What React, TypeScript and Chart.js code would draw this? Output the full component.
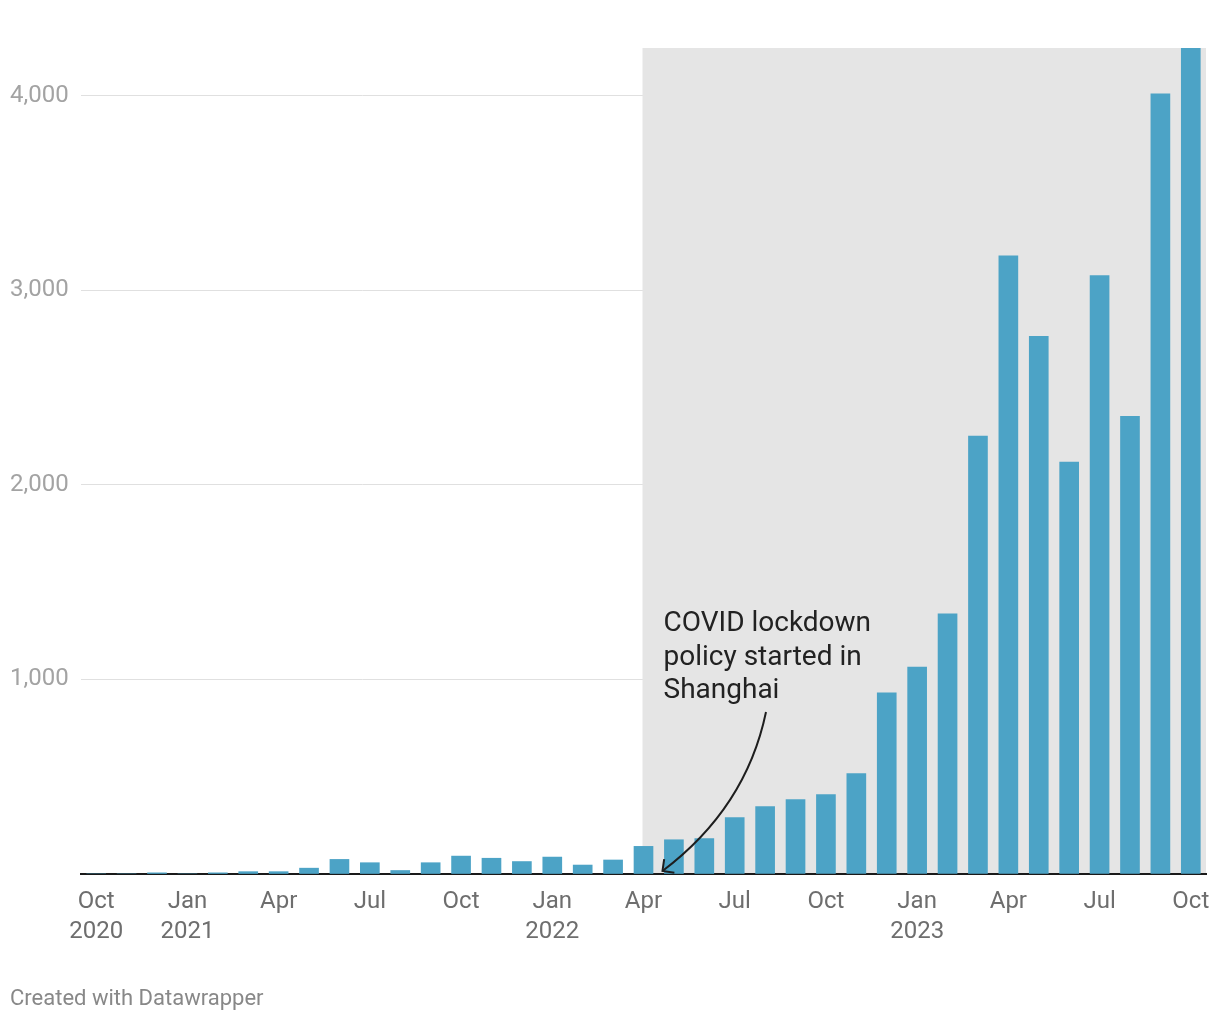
import React, { useEffect, useRef } from 'react';
import { Chart, registerables } from 'chart.js';

Chart.register(...registerables);

const categories = [
  'Oct 2020', 'Nov 2020', 'Dec 2020',
  'Jan 2021', 'Feb 2021', 'Mar 2021', 'Apr 2021', 'May 2021', 'Jun 2021',
  'Jul 2021', 'Aug 2021', 'Sep 2021', 'Oct 2021', 'Nov 2021', 'Dec 2021',
  'Jan 2022', 'Feb 2022', 'Mar 2022', 'Apr 2022', 'May 2022', 'Jun 2022',
  'Jul 2022', 'Aug 2022', 'Sep 2022', 'Oct 2022', 'Nov 2022', 'Dec 2022',
  'Jan 2023', 'Feb 2023', 'Mar 2023', 'Apr 2023', 'May 2023', 'Jun 2023',
  'Jul 2023', 'Aug 2023', 'Sep 2023', 'Oct 2023',
];

const values = [
  0, 0, 6,
  0, 6, 12, 12, 30, 75,
  58, 18, 58, 92, 81, 64,
  87, 46, 72, 142, 176, 182,
  290, 346, 382, 408, 516, 931,
  1064, 1337, 2250, 3177, 2763, 2117,
  3075, 2352, 4010, 4245,
];

const xTickLabels: Record<string, string[]> = {
  'Oct 2020': ['Oct', '2020'],
  'Jan 2021': ['Jan', '2021'],
  'Apr 2021': ['Apr'],
  'Jul 2021': ['Jul'],
  'Oct 2021': ['Oct'],
  'Jan 2022': ['Jan', '2022'],
  'Apr 2022': ['Apr'],
  'Jul 2022': ['Jul'],
  'Oct 2022': ['Oct'],
  'Jan 2023': ['Jan', '2023'],
  'Apr 2023': ['Apr'],
  'Jul 2023': ['Jul'],
  'Oct 2023': ['Oct'],
};

const yTicks = [0, 1000, 2000, 3000, 4000];
const yMax = 4245;

const highlightStart = 'Apr 2022';
const annotationLines = ['COVID lockdown', 'policy started in', 'Shanghai'];
const footerText = 'Created with Datawrapper';

const overlayPlugin = {
  id: 'overlay',
  beforeDatasetsDraw(chart: any) {
    const { ctx, chartArea, scales } = chart;
    const x0 = scales.x.getPixelForValue(categories.indexOf(highlightStart)) - 1;
    ctx.save();
    ctx.fillStyle = '#e5e5e5';
    ctx.fillRect(x0, chartArea.top, chartArea.right - x0, chartArea.bottom - 1 - chartArea.top);
    ctx.restore();
  },
  afterDatasetsDraw(chart: any) {
    const { ctx, scales } = chart;
    const base = scales.x.getPixelForValue(categories.indexOf(highlightStart));
    const baseY = scales.y.getPixelForValue(0);
    ctx.save();
    // annotation text
    ctx.fillStyle = '#222222';
    ctx.font = '28px Roboto';
    ctx.textAlign = 'left';
    ctx.textBaseline = 'alphabetic';
    const tx = base + 20;
    annotationLines.forEach((line, i) => {
      ctx.fillText(line, tx, 631 + i * 33.5);
    });
    // arrow
    const sx = 766, sy = 712;
    const cx = 746, cy = 808;
    const ex = base + 19, ey = baseY - 3;
    ctx.strokeStyle = '#1e1e1e';
    ctx.lineWidth = 2;
    ctx.beginPath();
    ctx.moveTo(sx, sy);
    ctx.quadraticCurveTo(cx, cy, ex, ey);
    ctx.stroke();
    const ang = Math.atan2(cy - ey, cx - ex);
    const len = 12;
    ctx.beginPath();
    ctx.moveTo(ex + Math.cos(ang - Math.PI / 4) * len, ey + Math.sin(ang - Math.PI / 4) * len);
    ctx.lineTo(ex, ey);
    ctx.lineTo(ex + Math.cos(ang + Math.PI / 4) * len, ey + Math.sin(ang + Math.PI / 4) * len);
    ctx.stroke();
    ctx.restore();
  },
  afterDraw(chart: any) {
    const { ctx } = chart;
    ctx.save();
    ctx.fillStyle = '#888888';
    ctx.font = '22px Roboto';
    ctx.textAlign = 'left';
    ctx.textBaseline = 'alphabetic';
    ctx.fillText(footerText, 10, 1005);
    ctx.restore();
  },
};

export default function App() {
  const ref = useRef<HTMLCanvasElement>(null);

  useEffect(() => {
    if (!ref.current) return;
    const chart = new Chart(ref.current, {
      type: 'bar',
      data: {
        labels: categories,
        datasets: [
          {
            data: values,
            backgroundColor: '#4ca3c6',
            borderWidth: 0,
            barThickness: 19,
          },
        ],
      },
      options: {
        responsive: false,
        animation: false,
        layout: { padding: { left: 10, right: 14, top: 48, bottom: 0 } },
        plugins: {
          legend: { display: false },
          tooltip: { enabled: false },
        },
        scales: {
          x: {
            offset: true,
            grid: { display: false, drawTicks: false },
            border: { display: true, color: '#1a1a1a', width: 2 },
            ticks: {
              autoSkip: false,
              maxRotation: 0,
              minRotation: 0,
              padding: 13,
              color: '#6e6e6e',
              font: { family: 'Roboto', size: 24, lineHeight: 1.25 },
              callback: (_v: any, i: number) => xTickLabels[categories[i]] ?? '',
            },
            afterFit: (s: any) => {
              s.height = 146;
              s.paddingLeft = 0;
              s.paddingRight = 0;
            },
          },
          y: {
            min: 0,
            max: yMax,
            grid: {
              color: (c: any) => (c.tick && c.tick.value === 0 ? 'rgba(0,0,0,0)' : '#e0e0e0'),
              drawTicks: false,
              lineWidth: 1,
            },
            border: { display: false },
            ticks: {
              crossAlign: 'far',
              padding: 0,
              color: '#a3a3a3',
              font: { family: 'Roboto', size: 24 },
              callback: (v: any) => (Number(v) === 0 ? '' : Number(v).toLocaleString('en-US')),
            },
            afterBuildTicks: (s: any) => {
              s.ticks = yTicks.map((v) => ({ value: v }));
            },
            afterFit: (s: any) => {
              s.width = 71;
            },
          },
        },
      } as any,
      plugins: [overlayPlugin],
    });
    return () => chart.destroy();
  }, []);

  return (
    <div style={{ position: 'absolute', left: 0, top: 0, width: 1220, height: 1020 }}>
      <canvas ref={ref} width={1220} height={1020} style={{ width: 1220, height: 1020, display: 'block' }} />
    </div>
  );
}
